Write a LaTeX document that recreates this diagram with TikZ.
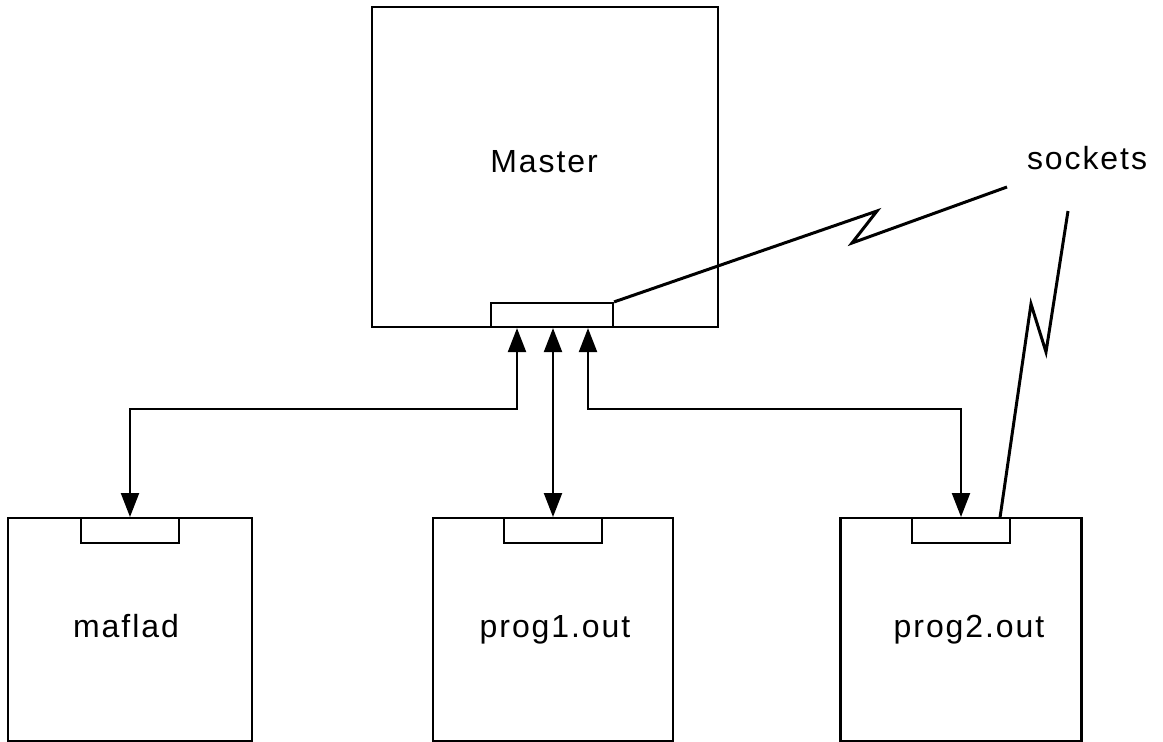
\documentclass[tikz,border=0pt]{standalone}
\usepackage{fontspec}
\setmainfont{Liberation Sans}[LetterSpace=6]
\usetikzlibrary{arrows.meta,calc}
\tikzset{
  box/.style={draw=black, line width=2.2pt, fill=white, inner sep=0pt},
  sock/.style={draw=black, line width=2.2pt, fill=white, minimum width=98pt, minimum height=25pt, inner sep=0pt, anchor=north},
  conn/.style={draw=black, line width=2.2pt, {Triangle[width=18pt,length=24pt]}-{Triangle[width=18pt,length=24pt]}},
  zig/.style={draw=black, line width=3pt, line join=miter},
  lbl/.style={font=\fontsize{32}{38}\selectfont, inner sep=0pt, anchor=base}
}
\begin{document}
\begin{tikzpicture}[x=1pt,y=-1pt]
\useasboundingbox (0,0) rectangle (1163,742);
% master
\node[box, minimum width=346pt, minimum height=320pt] (master) at (545,167) {};
\node[lbl] (mtext) at (544,172) {Master};
\node[draw=black, line width=2.2pt, fill=white, minimum width=122pt, minimum height=24pt, inner sep=0pt, anchor=south] (msock) at (master.south -| 552,0) {};
% bottom boxes
\node[box, minimum width=244pt, minimum height=223pt, anchor=north] (maflad) at (130,517) {};
\node[lbl] (ta) at (126,637) {maflad};
\node[sock] (sockA) at (maflad.north) {};
\node[box, minimum width=240pt, minimum height=223pt, anchor=north] (prog1) at (553,517) {};
\node[lbl] (tb) at (555,637) {prog1.out};
\node[sock] (sockB) at (prog1.north) {};
\node[box, minimum width=241pt, minimum height=223pt, anchor=north] (prog2) at (961,517) {};
\node[lbl] (tc) at (969,637) {prog2.out};
\node[sock] (sockC) at (prog2.north) {};
% label
\node[lbl] (socklbl) at (1087,169) {sockets};
% connectors
\draw[conn] ($(msock.south)+(-35,0)$) -- ++(0,81) -| (sockA.north);
\draw[conn] (msock.south -| sockB.north) -- (sockB.north);
\draw[conn] ($(msock.south)+(36,0)$) -- ++(0,81) -| (sockC.north);
% lightning lines
\draw[zig] (msock.north east) -- (877,211) -- (852,243) -- (1007,187);
\draw[zig] ($(sockC.north east)+(-11,0)$) -- (1031,304) -- (1046,352) -- (1068,211);
\end{tikzpicture}
\end{document}
